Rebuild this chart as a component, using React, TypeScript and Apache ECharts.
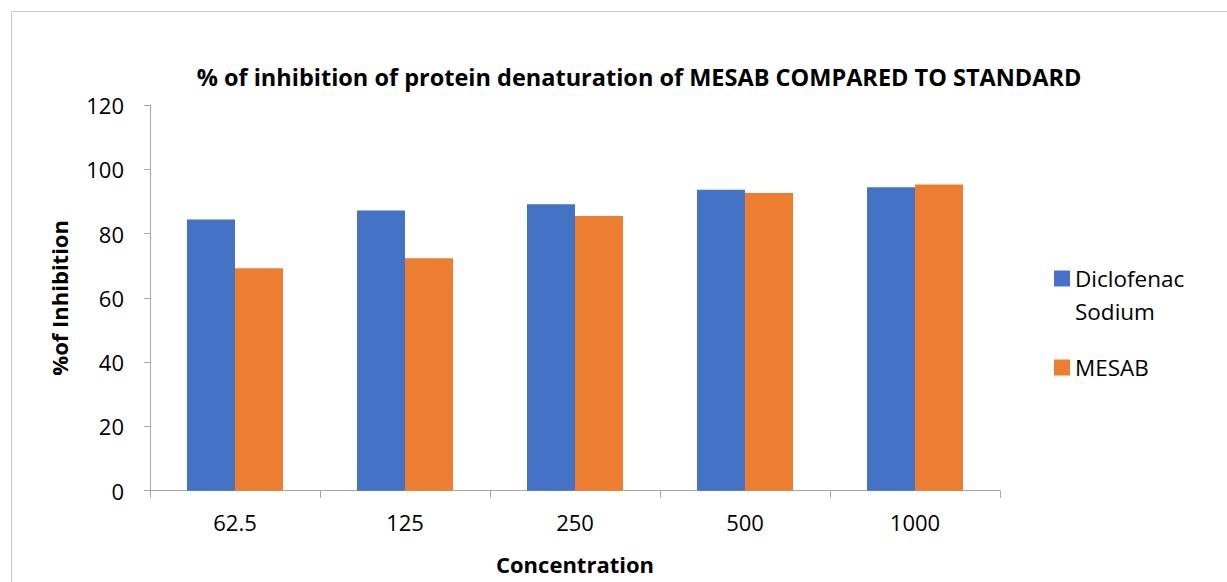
import React, { useEffect, useRef } from "react";
import * as echarts from "echarts";

const chartTitle = "% of inhibition of protein denaturation of MESAB COMPARED TO STANDARD";
const categories = ["62.5", "125", "250", "500", "1000"];
const diclofenacValues = [84.4, 87.2, 89.1, 93.6, 94.4];
const mesabValues = [69.2, 72.3, 85.5, 92.6, 95.3];
const seriesNames = ["Diclofenac Sodium", "MESAB"];
const seriesColors = ["#4472C4", "#ED7D31"];
const yMin = 0;
const yMax = 120;
const yInterval = 20;
const xAxisName = "Concentration";
const yAxisName = "%of Inhibition";

const FONT = "Open Sans";
const AXIS_COLOR = "#a6a6a6";

export default function App() {
  const ref = useRef<HTMLDivElement>(null);
  useEffect(() => {
    if (!ref.current) return;
    const chart = echarts.init(ref.current, null, { renderer: "svg" });
    chart.setOption({
      animation: false,
      backgroundColor: "#ffffff",
      textStyle: { fontFamily: FONT, color: "#000" },
      title: {
        text: chartTitle,
        left: 634,
        top: 60,
        textAlign: "center",
        textStyle: { fontFamily: FONT, fontSize: 23.5, fontWeight: "bold", color: "#000" },
      },
      graphic: [
        {
          type: "rect",
          shape: { x: 11.5, y: 11.5, width: 1400, height: 800 },
          style: { fill: "none", stroke: "#c8c8c8", lineWidth: 1 },
          silent: true,
        },
      ],
      legend: [
        {
          data: [seriesNames[0]],
          orient: "vertical",
          left: 1054,
          top: 229,
          padding: 0,
          itemWidth: 16,
          itemHeight: 16,
          icon: "rect",
          formatter: (n: string) => "\u00a0\n" + n.replace(" ", "\n"),
          textStyle: {
            fontFamily: FONT,
            fontSize: 22.5,
            lineHeight: 33,
            color: "#000",
          },
        },
        {
          data: [seriesNames[1]],
          orient: "vertical",
          left: 1054,
          top: 351,
          padding: 0,
          itemWidth: 16,
          itemHeight: 16,
          icon: "rect",
          textStyle: { fontFamily: FONT, fontSize: 22.5, lineHeight: 33, color: "#000" },
        },
      ],
      grid: { left: 150, top: 105, width: 850, height: 385.7, containLabel: false },
      xAxis: {
        type: "category",
        data: categories,
        boundaryGap: true,
        axisLine: { show: true, lineStyle: { color: AXIS_COLOR, width: 1 } },
        axisTick: { show: true, length: 7, inside: false, lineStyle: { color: AXIS_COLOR } },
        axisLabel: { fontFamily: FONT, fontSize: 22, color: "#000", margin: 20 },
        name: xAxisName,
        nameLocation: "middle",
        nameGap: 62,
        nameTextStyle: { fontFamily: FONT, fontSize: 22, fontWeight: "bold", color: "#000" },
      },
      yAxis: {
        type: "value",
        min: yMin,
        max: yMax,
        interval: yInterval,
        axisLine: { show: true, lineStyle: { color: AXIS_COLOR, width: 1 } },
        axisTick: { show: true, length: 6, inside: false, lineStyle: { color: AXIS_COLOR } },
        splitLine: { show: false },
        axisLabel: { fontFamily: FONT, fontSize: 22, color: "#000", margin: 26 },
        name: yAxisName,
        nameLocation: "middle",
        nameRotate: 90,
        nameGap: 80,
        nameTextStyle: { fontFamily: FONT, fontSize: 22, fontWeight: "bold", color: "#000" },
      },
      series: [
        {
          name: seriesNames[0],
          type: "bar",
          data: diclofenacValues,
          barWidth: 48,
          barGap: "0%",
          itemStyle: { color: seriesColors[0] },
        },
        {
          name: seriesNames[1],
          type: "bar",
          data: mesabValues,
          barWidth: 48,
          barGap: "0%",
          itemStyle: { color: seriesColors[1] },
        },
      ],
    });
    return () => chart.dispose();
  }, []);
  return (
    <div
      ref={ref}
      style={{ position: "fixed", left: 0, top: 0, width: 1227, height: 582 }}
    />
  );
}
